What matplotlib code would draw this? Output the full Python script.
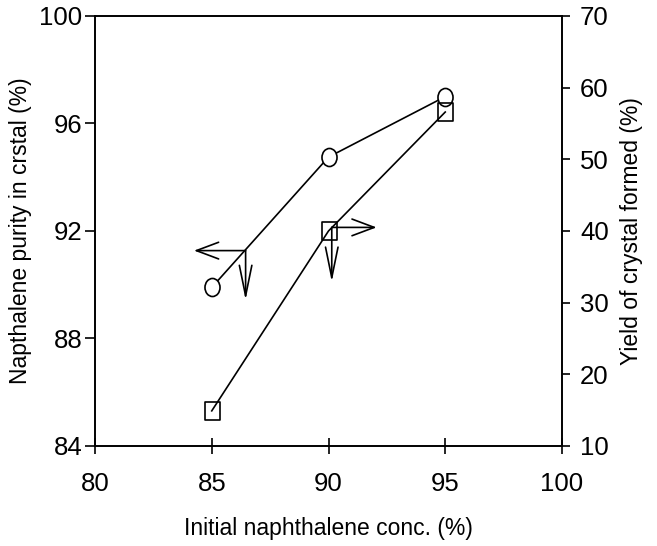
import matplotlib
matplotlib.use("Agg")
import matplotlib.pyplot as plt
from matplotlib.path import Path
from matplotlib.transforms import Affine2D

plt.rcParams['font.family'] = ['Liberation Sans Narrow', 'Liberation Sans', 'DejaVu Sans']

# data
conc = [85, 90, 95]
purity = [89.9, 94.75, 97.0]      # left axis, circles
yield_pct = [14.9, 40.0, 56.6]    # right axis, squares

# tall markers (the original picture is stretched vertically)
ellipse = Path.unit_circle().transformed(Affine2D().scale(1.0, 1.2))
box = Path([(-1, -1.25), (1, -1.25), (1, 1.25), (-1, 1.25), (-1, -1.25)],
           [Path.MOVETO, Path.LINETO, Path.LINETO, Path.LINETO, Path.CLOSEPOLY])

fig = plt.figure(figsize=(6.57, 5.46), dpi=100)
ax = fig.add_axes([0.1446, 0.1832, 0.7108, 0.7875])
ax2 = ax.twinx()

ax.plot(conc, purity, color='black', lw=1.2, marker=ellipse, ms=13,
        mfc='white', mec='black', mew=1.2, zorder=3)
ax2.plot(conc, yield_pct, color='black', lw=1.2, marker=box, ms=13.5,
         mfc='none', mec='black', mew=1.2, zorder=3)

ax.set_xlim(80, 100)
ax.set_ylim(84, 100)
ax2.set_ylim(10, 70)
ax.set_xticks([80, 85, 90, 95, 100])
ax.set_yticks([84, 88, 92, 96, 100])
ax2.set_yticks([10, 20, 30, 40, 50, 60, 70])

for a in (ax, ax2):
    for s in a.spines.values():
        s.set_linewidth(1.2)

ax.tick_params(axis='x', direction='inout', length=11, width=1.2, pad=13, labelsize=18.5)
ax.tick_params(axis='y', direction='out', length=7, width=1.2, pad=2, labelsize=18.5)
ax2.tick_params(axis='y', direction='out', length=6, width=1.2, pad=7, labelsize=18.5)

ax.set_xlabel('Initial naphthalene conc. (%)', fontsize=16.5, labelpad=15)
ax.set_ylabel('Napthalene purity in crstal (%)', fontsize=16.5, labelpad=5)
ax2.set_ylabel('Yield of crystal formed (%)', fontsize=16.5, labelpad=8)

# arrows pointing to the axis each curve belongs to
arr_h = dict(arrowstyle='->,head_length=1.6,head_width=0.6', lw=1.2, color='black',
             shrinkA=0, shrinkB=0)
arr_v = dict(arrowstyle='->,head_length=2.2,head_width=0.45', lw=1.2, color='black',
             shrinkA=0, shrinkB=0)
ax.annotate('', xy=(84.24, 91.27), xytext=(86.45, 91.27), arrowprops=arr_h)
ax.annotate('', xy=(86.45, 89.43), xytext=(86.45, 91.27), arrowprops=arr_v)
ax2.annotate('', xy=(92.06, 40.5), xytext=(90.14, 40.5), arrowprops=arr_h)
ax2.annotate('', xy=(90.14, 32.9), xytext=(90.14, 40.5), arrowprops=arr_v)

fig.savefig('out.png', dpi=100)
